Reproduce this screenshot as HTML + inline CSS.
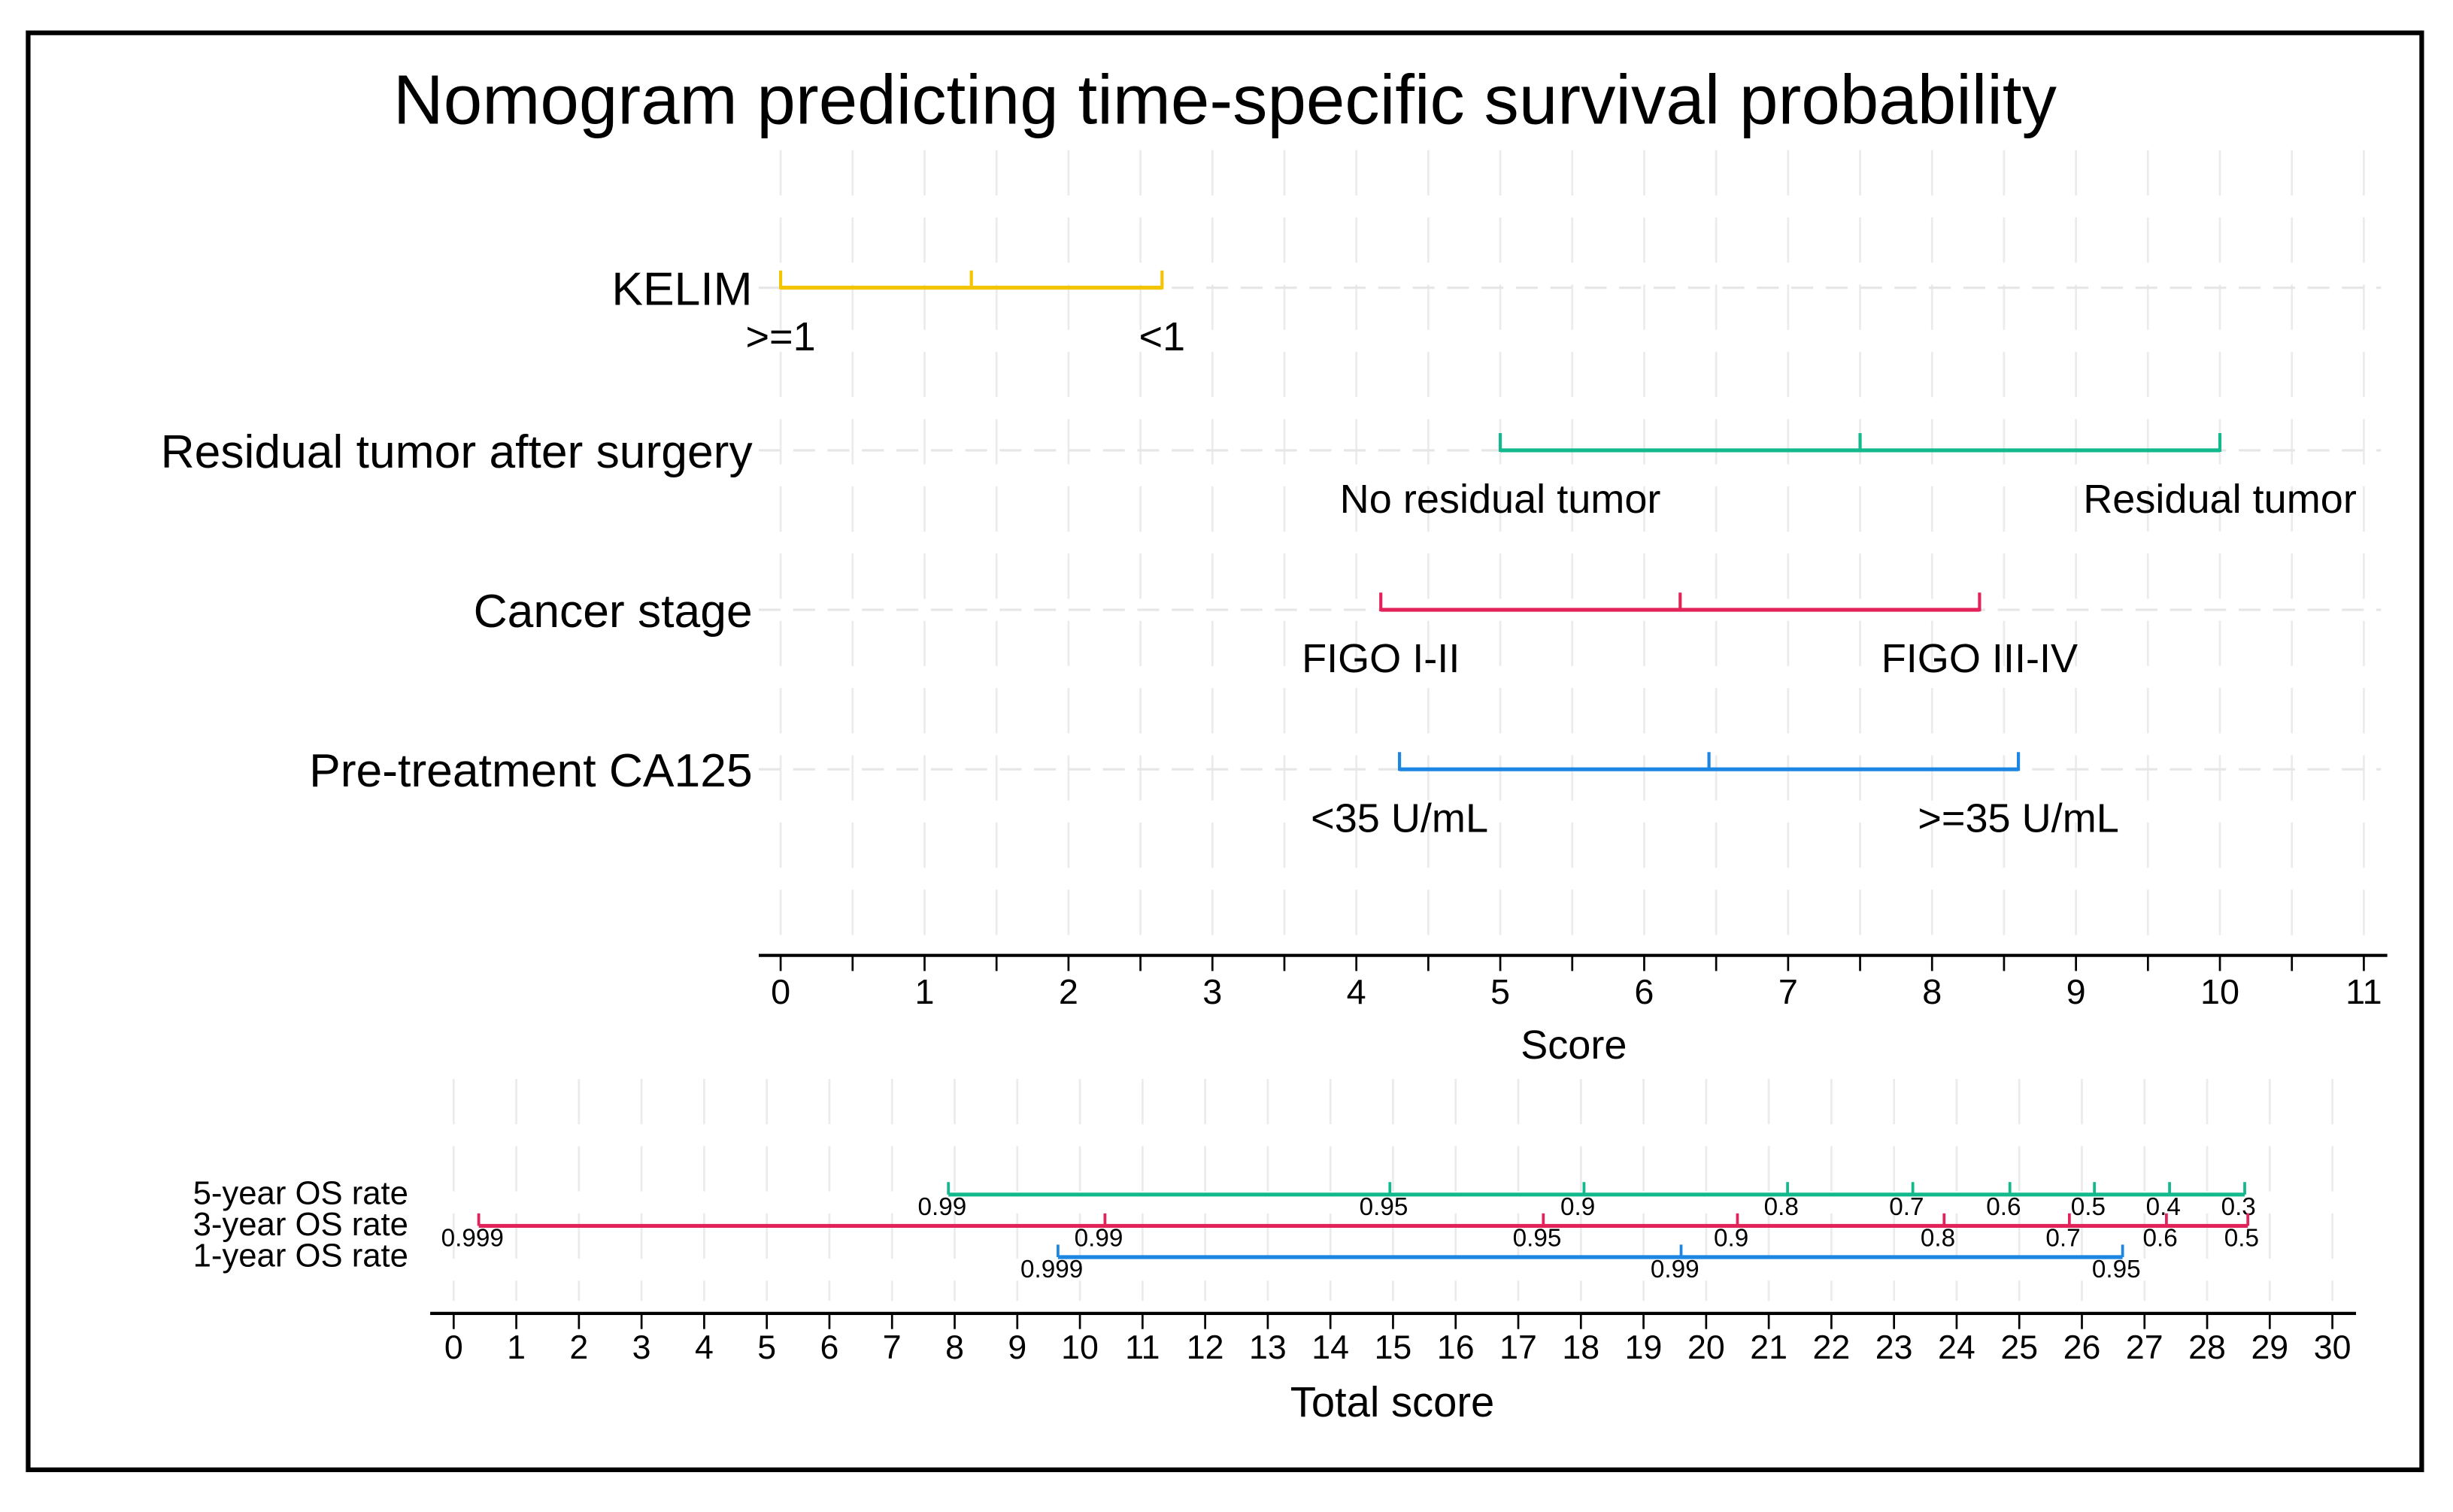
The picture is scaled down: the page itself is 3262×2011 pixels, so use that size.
<!DOCTYPE html>
<html><head><meta charset="utf-8"><style>
html,body{margin:0;padding:0;background:#fff}
svg{display:block}
text{font-family:"Liberation Sans",Arial,sans-serif;fill:#000}
</style></head><body>
<svg id="chart" width="3262" height="2011" viewBox="0 0 1568 967" preserveAspectRatio="none" xmlns="http://www.w3.org/2000/svg">
<rect x="18" y="21" width="1530" height="919" fill="#fff" stroke="#000" stroke-width="3"/>
<text x="783" y="79" font-size="44.5" text-anchor="middle">Nomogram predicting time-specific survival probability</text>
<g id="gridG"></g>
<g id="topG"></g>
<g id="botG"></g>
</svg>
<script>
const NS="http://www.w3.org/2000/svg";
// score axis data
const scoreTicks=[0,1,2,3,4,5,6,7,8,9,10,11];
const varNames=["KELIM","Residual tumor after surgery","Cancer stage","Pre-treatment CA125"];
const varColors=["#F2C500","#12B98C","#E2235A","#1C86E2"];
const varStart=[0,5,4.17,4.3];
const varEnd=[2.65,10,8.33,8.6];
const varLevelLabels=[[">=1","<1"],["No residual tumor","Residual tumor"],["FIGO I-II","FIGO III-IV"],["<35 U/mL",">=35 U/mL"]];
// total score / survival data
const totalTicks=[0,1,2,3,4,5,6,7,8,9,10,11,12,13,14,15,16,17,18,19,20,21,22,23,24,25,26,27,28,29,30];
const survNames=["5-year OS rate","3-year OS rate","1-year OS rate"];
const survColors=["#12B98C","#E2235A","#1C86E2"];
const surv5Pos=[7.9,14.95,18.05,21.3,23.3,24.85,26.2,27.4,28.6];
const surv5Lab=["0.99","0.95","0.9","0.8","0.7","0.6","0.5","0.4","0.3"];
const surv3Pos=[0.4,10.4,17.4,20.5,23.8,25.8,27.35,28.65];
const surv3Lab=["0.999","0.99","0.95","0.9","0.8","0.7","0.6","0.5"];
const surv1Pos=[9.65,19.6,26.65];
const surv1Lab=["0.999","0.99","0.95"];

const xs=v=>499+v*92;
const xt=v=>290+v*40.03;
function el(tag,attrs,parent,txt){const e=document.createElementNS(NS,tag);for(const k in attrs)e.setAttribute(k,attrs[k]);if(txt!==undefined)e.textContent=txt;parent.appendChild(e);return e;}
const gridG=document.getElementById('gridG'),topG=document.getElementById('topG'),botG=document.getElementById('botG');
for(let v=0;v<=11;v+=0.5){const g=el('line',{x1:xs(v),x2:xs(v),y1:96,y2:605,stroke:'#ebebeb','stroke-width':1.3,'stroke-dasharray':'29,14'},gridG);

}
const rowY=[184,288,390,492];
rowY.forEach(y=>{const g=el('line',{x1:485,x2:1522,y1:y,y2:y,stroke:'#e6e6e6','stroke-width':1.5,'stroke-dasharray':'14,8'},gridG);

});
for(let v=0;v<=30;v++){const g=el('line',{x1:xt(v),x2:xt(v),y1:690,y2:832,stroke:'#ebebeb','stroke-width':1.3,'stroke-dasharray':'29,14'},gridG);

}
let a=el('line',{x1:485,x2:1526,y1:611,y2:611,stroke:'#000','stroke-width':2},topG);


for(let v=0;v<=11;v+=0.5){const t=el('line',{x1:xs(v),x2:xs(v),y1:611,y2:621,stroke:'#000','stroke-width':1.3},topG);

}
scoreTicks.forEach(v=>{const t=el('text',{x:xs(v),y:642,'font-size':22.5,'text-anchor':'middle'},topG,String(v));

});
let st=el('text',{x:1006,y:677,'font-size':26,'text-anchor':'middle'},topG,'Score');


varNames.forEach((n,i)=>{const y=rowY[i],c=varColors[i],s=varStart[i],e=varEnd[i],m=(s+e)/2;
const nm=el('text',{x:481,y:y+11,'font-size':30,'text-anchor':'end'},topG,n);


const l=el('line',{x1:xs(s),x2:xs(e),y1:y,y2:y,stroke:c,'stroke-width':2.5},topG);


[s,m,e].forEach(v=>{const t=el('line',{x1:xs(v),x2:xs(v),y1:y-11,y2:y+1,stroke:c,'stroke-width':2},topG);

});
[s,e].forEach((v,j)=>{const t=el('text',{x:xs(v),y:y+40,'font-size':26,'text-anchor':'middle'},topG,varLevelLabels[i][j]);

});
});
a=el('line',{x1:275,x2:1506,y1:840,y2:840,stroke:'#000','stroke-width':2},botG);


totalTicks.forEach(v=>{const t=el('line',{x1:xt(v),x2:xt(v),y1:840,y2:850,stroke:'#000','stroke-width':1.3},botG);


const tl=el('text',{x:xt(v),y:869,'font-size':21.5,'text-anchor':'middle'},botG,String(v));

});
const tt=el('text',{x:890,y:906,'font-size':27,'text-anchor':'middle'},botG,'Total score');


const survPos=[surv5Pos,surv3Pos,surv1Pos],survLab=[surv5Lab,surv3Lab,surv1Lab],survY=[764,784,804];
survNames.forEach((n,i)=>{const y=survY[i],c=survColors[i],P=survPos[i],L=survLab[i];
const nm=el('text',{x:261,y:y+6,'font-size':21,'text-anchor':'end'},botG,n);


const l=el('line',{x1:xt(P[0]),x2:xt(P[P.length-1]),y1:y,y2:y,stroke:c,'stroke-width':2.5},botG);


P.forEach((v,j)=>{const t=el('line',{x1:xt(v),x2:xt(v),y1:y-8,y2:y,stroke:c,'stroke-width':1.8},botG);


const tl=el('text',{x:xt(v)-4,y:y+13,'font-size':16,'text-anchor':'middle'},botG,L[j]);

});
});
</script>
</body></html>
